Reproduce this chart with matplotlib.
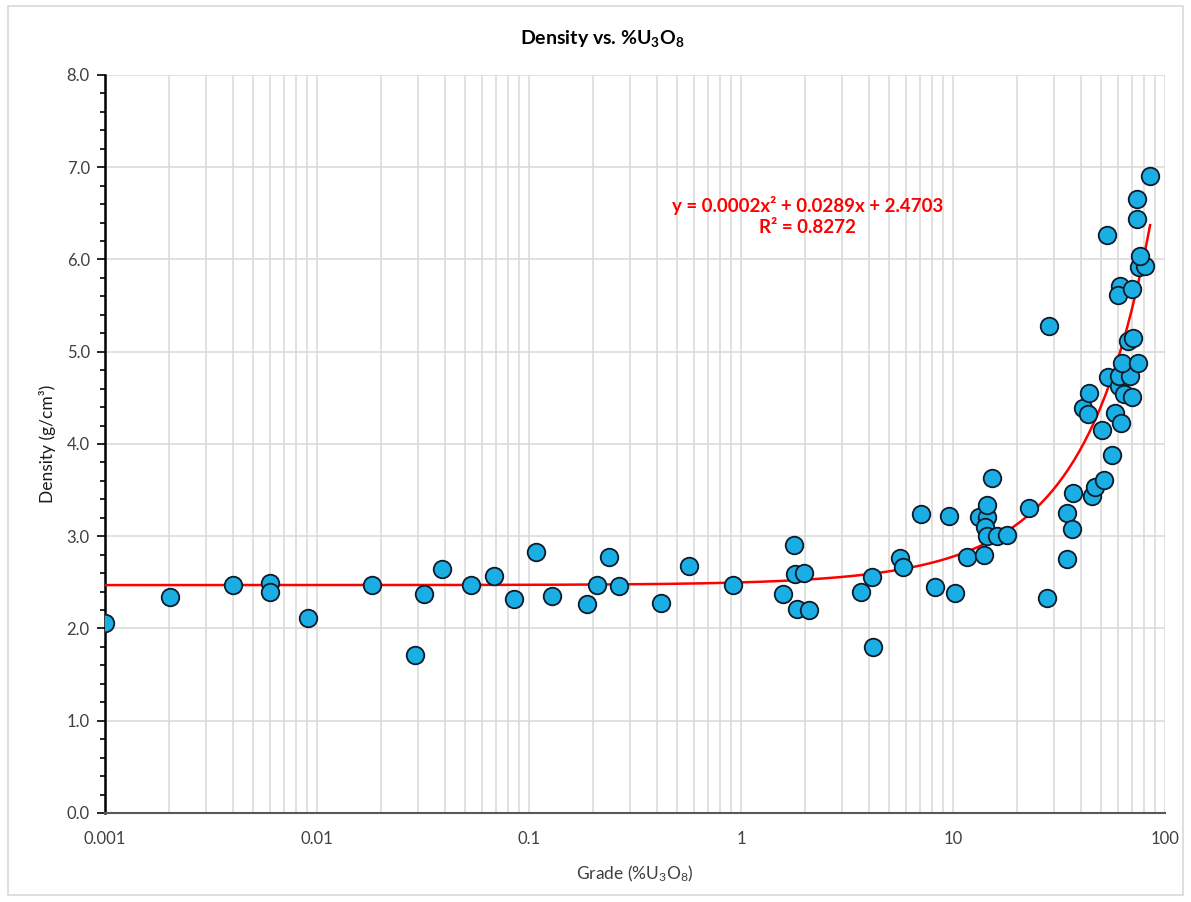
import numpy as np
import matplotlib
matplotlib.use("Agg")
import matplotlib.pyplot as plt
from matplotlib.ticker import FixedLocator, FuncFormatter, MultipleLocator, LogLocator, NullFormatter
from matplotlib.patches import Rectangle

plt.rcParams["font.family"] = ["Lato", "DejaVu Sans"]
plt.rcParams["mathtext.default"] = "regular"

# grade (%U3O8) and density (g/cm3)
grade = [
    0.001, 0.00203, 0.00402, 0.0060, 0.0060, 0.00907, 0.0181, 0.0291, 0.0321, 0.039,
    0.0533, 0.0684, 0.085, 0.1076, 0.129, 0.187, 0.209, 0.239, 0.265, 0.419,
    0.569, 0.920, 1.57, 1.77, 1.79, 1.84, 1.99, 2.10, 3.67, 4.14,
    4.18, 5.61, 5.83, 7.09, 8.25, 9.57, 10.25, 11.6, 13.2, 14.0,
    14.5, 14.5, 14.1, 14.5, 16.1, 17.9, 15.2, 22.8, 27.7, 28.3,
    34.4, 34.4, 36.3, 36.7, 40.9, 43.2, 43.6, 45.1, 46.8, 51.4,
    50.6, 56.5, 54.1, 58.1, 60.4, 60.5, 61.7, 63.9, 68.2, 70.0,
    62.9, 74.8, 66.7, 70.4, 61.1, 59.8, 69.6, 75.2, 80.8, 76.5,
    53.5, 74.0, 74.0, 85.0,
]
density = [
    2.06, 2.34, 2.47, 2.49, 2.39, 2.11, 2.47, 1.71, 2.37, 2.64,
    2.47, 2.57, 2.32, 2.83, 2.35, 2.27, 2.47, 2.78, 2.46, 2.28,
    2.68, 2.47, 2.37, 2.90, 2.59, 2.21, 2.60, 2.20, 2.39, 2.56,
    1.80, 2.76, 2.67, 3.24, 2.45, 3.22, 2.38, 2.78, 3.21, 2.80,
    3.21, 3.34, 3.10, 3.00, 3.00, 3.01, 3.63, 3.31, 2.33, 5.28,
    2.75, 3.25, 3.08, 3.47, 4.39, 4.32, 4.55, 3.44, 3.53, 3.61,
    4.15, 3.88, 4.73, 4.34, 4.63, 4.74, 4.23, 4.54, 4.74, 4.51,
    4.88, 4.88, 5.12, 5.15, 5.71, 5.62, 5.68, 5.92, 5.93, 6.04,
    6.27, 6.44, 6.65, 6.91,
]

# trendline coefficients shown on the chart
coef = [0.0002, 0.0289, 2.4703]
x_ticks = [0.001, 0.01, 0.1, 1, 10, 100]

fig = plt.figure(figsize=(11.91, 9.02), dpi=100)
fig.patches.append(Rectangle((0.007, 0.008), 0.986, 0.985, transform=fig.transFigure,
                             fill=False, edgecolor="#d9d9d9", linewidth=1.2))
ax = fig.add_axes([0.0882, 0.0987, 0.8900, 0.8182])

xs = np.logspace(np.log10(min(grade)), np.log10(max(grade)), 400)
ax.plot(xs, np.polyval(coef, xs), color="#ff0000", linewidth=1.8, zorder=3)
ax.scatter(grade, density, s=160, facecolor="#1aaee5", edgecolor="#0d1b2a",
           linewidth=1.3, zorder=4)

ax.set_xscale("log")
ax.set_xlim(0.001, 100)
ax.set_ylim(0, 8)

ax.xaxis.set_major_locator(FixedLocator(x_ticks))
ax.xaxis.set_major_formatter(FuncFormatter(lambda v, p: f"{v:g}"))
ax.xaxis.set_minor_locator(LogLocator(base=10, subs=np.arange(2, 10)))
ax.xaxis.set_minor_formatter(NullFormatter())
ax.tick_params(axis="x", which="both", length=0, pad=13, labelsize=12, colors="#404040")

ax.yaxis.set_major_locator(MultipleLocator(1.0))
ax.yaxis.set_minor_locator(MultipleLocator(0.2))
ax.yaxis.set_major_formatter(FuncFormatter(lambda v, p: f"{v:.1f}"))
ax.tick_params(axis="y", which="major", direction="out", length=6, width=1.2,
               labelsize=12, colors="#000000", labelcolor="#404040", pad=5)
ax.tick_params(axis="y", which="minor", direction="out", length=3.5, width=1.2)

ax.grid(True, which="major", axis="both", color="#d9d9d9", linewidth=1.1)
ax.grid(True, which="minor", axis="x", color="#d9d9d9", linewidth=1.1)
ax.set_axisbelow(True)

for s in ["top", "right"]:
    ax.spines[s].set_visible(False)
ax.spines["left"].set_linewidth(1.8)
ax.spines["left"].set_color("#000000")
ax.spines["bottom"].set_linewidth(1.5)
ax.spines["bottom"].set_color("#595959")

# chart title is centred on the whole chart area, not the plot area
fig.text(0.506, 0.957, "Density vs. %U$_3$O$_8$", ha="center", va="center",
         fontsize=14, fontweight="bold")
ax.set_xlabel("Grade (%U$_3$O$_8$)", fontsize=12.5, color="#404040", labelpad=12)
ax.set_ylabel("Density (g/cm\u00b3)", fontsize=12.5, color="#1a1a1a", labelpad=8)

ax.text(0.663, 0.809, "y = 0.0002x\u00b2 + 0.0289x + 2.4703\nR\u00b2 = 0.8272",
        transform=ax.transAxes, ha="center", va="center", color="#ff0000",
        fontsize=13.5, fontweight="bold", linespacing=1.25)

fig.savefig("out.png", dpi=100)
